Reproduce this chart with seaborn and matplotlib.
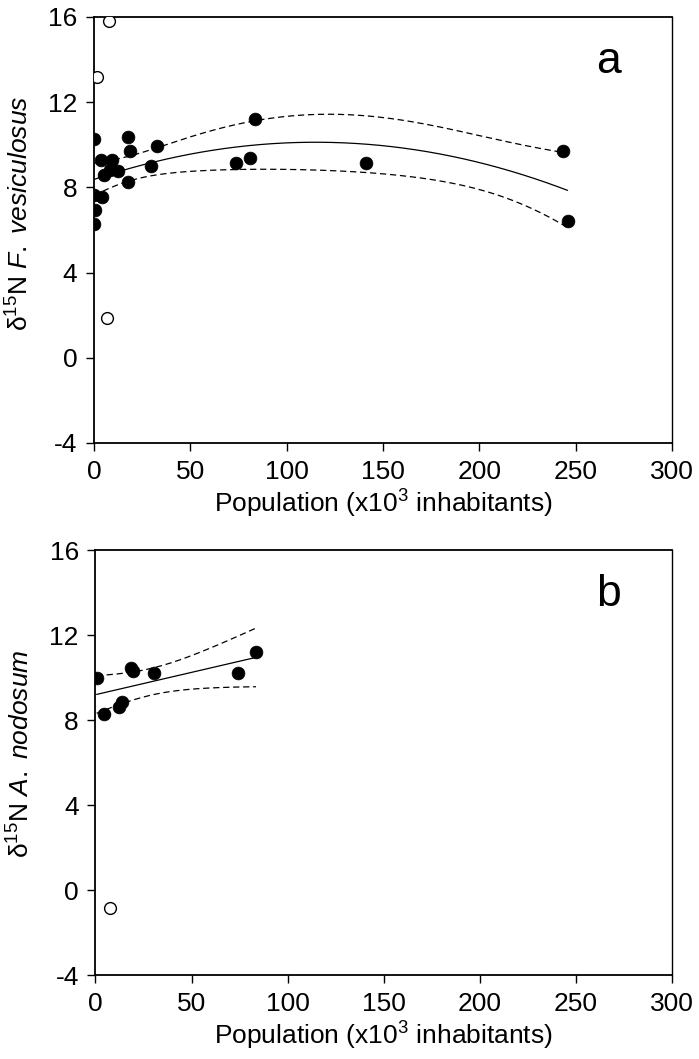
import numpy as np
import pandas as pd
import matplotlib
matplotlib.use("Agg")
import matplotlib.pyplot as plt
import seaborn as sns

# ---------------- data ----------------
# Panel a: F. vesiculosus
a_pop_fill = [0, 0, 0.5, 0.2, 3.5, 4, 5.2, 8.3, 9.5, 12.6, 17.8, 18.6, 17.8,
              29.5, 32.5, 73.9, 81.2, 83.4, 141.3, 243.2, 245.8]
a_d15n_fill = [10.25, 7.65, 6.95, 6.3, 9.3, 7.55, 8.6, 8.8, 9.3, 8.75, 10.35, 9.7,
               8.25, 9.0, 9.95, 9.15, 9.4, 11.2, 9.15, 9.7, 6.4]
a_pop_open = [7.8, 1.7, 6.6]
a_d15n_open = [15.8, 13.2, 1.85]

# Panel b: A. nodosum
b_pop_fill = [0.6, 4.4, 12, 14, 18.5, 19.5, 30.3, 74.3, 83.5]
b_d15n_fill = [10.0, 8.3, 8.6, 8.85, 10.45, 10.3, 10.22, 10.22, 11.2]
b_pop_open = [7.5]
b_d15n_open = [-0.85]

x_ticks = [0, 50, 100, 150, 200, 250, 300]
y_ticks = [-4, 0, 4, 8, 12, 16]
panel_letters = ["a", "b"]
y_species = ["F. vesiculosus", "A. nodosum"]

# Student t 0.975 quantiles for the regression residual dof (n - p)
T975 = {18: 2.101, 7: 2.365}


def fit_with_band(x, y, order):
    x = np.asarray(x, float)
    y = np.asarray(y, float)
    X = np.vander(x, order + 1, increasing=True)
    beta, *_ = np.linalg.lstsq(X, y, rcond=None)
    resid = y - X @ beta
    dof = len(x) - (order + 1)
    s2 = resid @ resid / dof
    cov = np.linalg.inv(X.T @ X)
    xs = np.linspace(x.min(), x.max(), 200)
    Xs = np.vander(xs, order + 1, increasing=True)
    yhat = Xs @ beta
    se = np.sqrt(s2 * np.einsum("ij,jk,ik->i", Xs, cov, Xs))
    t = T975[dof]
    return pd.DataFrame({"x": xs, "fit": yhat, "lo": yhat - t * se, "hi": yhat + t * se})


sns.set_theme(style="white")
plt.rcParams["font.family"] = ["Liberation Sans", "DejaVu Sans"]
plt.rcParams["mathtext.fontset"] = "custom"
plt.rcParams["mathtext.rm"] = "Liberation Sans"
plt.rcParams["mathtext.it"] = "Liberation Sans:italic"
plt.rcParams["axes.unicode_minus"] = False

FS = 19

fig = plt.figure(figsize=(6.99, 10.59), dpi=100)
ax_a = fig.add_axes([0.1345, 0.5817, 0.8269, 0.4023])
ax_b = fig.add_axes([0.1366, 0.0793, 0.8247, 0.4013])

panels = [
    (ax_a, a_pop_fill, a_d15n_fill, a_pop_open, a_d15n_open, 2, 0.54),
    (ax_b, b_pop_fill, b_d15n_fill, b_pop_open, b_d15n_open, 1, 0.52),
]

for i, (ax, xf, yf, xo, yo, order, ylab_y) in enumerate(panels):
    band = fit_with_band(xf, yf, order)
    sns.lineplot(data=band, x="x", y="fit", ax=ax, color="black", lw=0.9, zorder=2)
    sns.lineplot(data=band, x="x", y="hi", ax=ax, color="black", lw=0.9,
                 zorder=2).lines[-1].set_dashes([5, 3])
    sns.lineplot(data=band, x="x", y="lo", ax=ax, color="black", lw=0.9,
                 zorder=2).lines[-1].set_dashes([5, 3])
    sns.scatterplot(x=xf, y=yf, ax=ax, color="black", s=85, edgecolor="black",
                    linewidth=0.5, zorder=3)
    sns.scatterplot(x=xo, y=yo, ax=ax, facecolor="white", s=72, edgecolor="black",
                    linewidth=1.0, zorder=3)

    ax.set_xlim(0, 300)
    ax.set_ylim(-4, 16)
    ax.set_xticks(x_ticks)
    ax.set_yticks(y_ticks)
    ax.tick_params(axis="both", direction="out", length=6, width=1.0,
                   labelsize=FS, colors="black", left=True, bottom=True,
                   top=False, right=False, pad=6)
    for sp in ax.spines.values():
        sp.set_color("black")
        sp.set_linewidth(1.3)
    ax.spines["right"].set_linewidth(1.0)
    ax.grid(False)
    ax.set_xlabel("Population (x10$^{3}$ inhabitants)", fontsize=FS, color="black", labelpad=3)
    ax.set_ylabel("δ$^{15}$N $\\it{" + y_species[i].replace(" ", "\\ ") + "}$",
                  fontsize=FS, color="black", labelpad=5)
    ax.yaxis.set_label_coords(-0.105, ylab_y)
    ax.text(0.89, 0.895, panel_letters[i], transform=ax.transAxes, fontsize=32,
            ha="center", va="center", color="black")

fig.savefig("out.png", dpi=100, facecolor="white")
